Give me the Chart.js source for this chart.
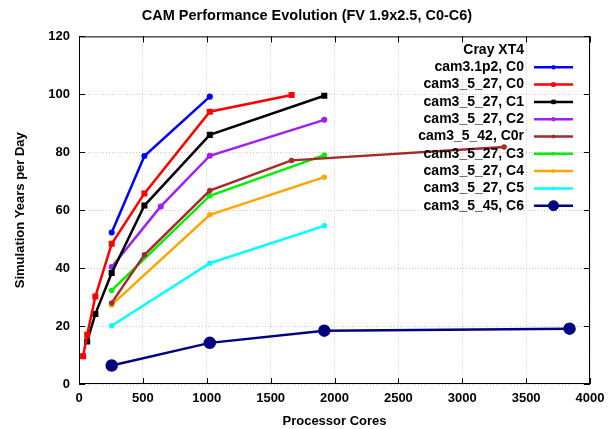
<!DOCTYPE html>
<html>
<head>
<meta charset="utf-8">
<script src="https://cdn.jsdelivr.net/npm/chart.js@4.4.1/dist/chart.umd.min.js"></script>
<style>
  html, body { margin: 0; padding: 0; background: #fff; }
  #wrap { width: 614px; height: 429px; }
</style>
</head>
<body>
<div id="wrap"><canvas id="perfChart"></canvas></div>
<script>
// data (x = processor cores, y = simulation years per day)
const seriesLabels = [
    'cam3.1p2, C0', 'cam3_5_27, C0', 'cam3_5_27, C1', 'cam3_5_27, C2', 'cam3_5_42, C0r',
    'cam3_5_27, C3', 'cam3_5_27, C4', 'cam3_5_27, C5', 'cam3_5_45, C6'
];
const cam31p2C0 = [[256, 52.3], [512, 78.7], [1024, 99.2]];
const cam3527C0 = [[32, 9.6], [64, 17.0], [128, 30.2], [256, 48.4], [512, 65.8], [1024, 94.0], [1664, 99.8]];
const cam3527C1 = [[64, 14.7], [128, 24.2], [256, 38.3], [512, 61.6], [1024, 86.0], [1920, 99.5]];
const cam3527C2 = [[256, 40.4], [640, 61.3], [1024, 78.8], [1920, 91.2]];
const cam3542C0r = [[256, 28.0], [512, 44.6], [1024, 66.8], [1664, 77.2], [3328, 81.8]];
const cam3527C3 = [[256, 32.3], [1024, 65.0], [1920, 79.0]];
const cam3527C4 = [[256, 27.3], [1024, 58.4], [1920, 71.4]];
const cam3527C5 = [[256, 20.1], [1024, 41.7], [1920, 54.6]];
const cam3545C6 = [[256, 6.4], [1024, 14.2], [1920, 18.4], [3840, 19.1]];
const xTicks = [0, 500, 1000, 1500, 2000, 2500, 3000, 3500, 4000];
const yTicks = [0, 20, 40, 60, 80, 100, 120];

const allSeries = [cam31p2C0, cam3527C0, cam3527C1, cam3527C2, cam3542C0r, cam3527C3, cam3527C4, cam3527C5, cam3545C6];
const colors = ['#0000ff', '#ff0000', '#000000', '#a020f0', '#a52a2a', '#00ee00', '#ffa500', '#00ffff', '#000080'];
const pointStyles = ['circle', 'rect', 'rect', 'circle', 'circle', 'circle', 'circle', 'circle', 'circle'];
const pointSizes = [1.8, 2.5, 2.5, 1.8, 1.5, 1.5, 1.5, 1.5, 5];

const FONT = '"Liberation Sans", Arial, Helvetica, sans-serif';

// legend drawn gnuplot style: label right-aligned, line sample on its right
const gnuLegend = {
    id: 'gnuLegend',
    afterDatasetsDraw(chart) {
        const ctx = chart.ctx;
        const textRight = 524, lineL = 534, lineR = 573;
        let y = 50;
        ctx.save();
        ctx.font = 'bold 14px ' + FONT;
        ctx.fillStyle = '#000';
        ctx.textAlign = 'right';
        ctx.textBaseline = 'middle';
        ctx.fillText('Cray XT4', textRight, y);
        y += 17.3;
        chart.data.datasets.forEach(function(ds) {
            ctx.fillStyle = '#000';
            ctx.fillText(ds.label, textRight, y);
            ctx.strokeStyle = ds.borderColor;
            ctx.lineWidth = ds.borderWidth;
            ctx.beginPath();
            ctx.moveTo(lineL, y);
            ctx.lineTo(lineR, y);
            ctx.stroke();
            if (Chart.helpers && Chart.helpers.drawPoint) {
                ctx.fillStyle = ds.pointBackgroundColor;
                ctx.lineWidth = 1;
                Chart.helpers.drawPoint(ctx, {
                    pointStyle: ds.pointStyle,
                    radius: ds.pointRadius,
                    rotation: 0,
                    borderWidth: 1
                }, (lineL + lineR) / 2, y);
            }
            y += 17.3;
        });
        ctx.restore();
    }
};

// frame and inward ticks on all four sides
const frameTicks = {
    id: 'frameTicks',
    afterDraw(chart) {
        const a = chart.chartArea;
        const xs = chart.scales.x, ys = chart.scales.y;
        const ctx = chart.ctx;
        ctx.save();
        ctx.strokeStyle = '#000';
        ctx.lineWidth = 1;
        ctx.strokeRect(a.left + 0.5, a.top + 0.5, a.right - a.left - 1, a.bottom - a.top - 1);
        ctx.beginPath();
        xTicks.forEach(function(v) {
            const px = Math.round(xs.getPixelForValue(v)) + 0.5;
            ctx.moveTo(px, a.bottom); ctx.lineTo(px, a.bottom - 6);
            ctx.moveTo(px, a.top); ctx.lineTo(px, a.top + 6);
        });
        yTicks.forEach(function(v) {
            const py = Math.round(ys.getPixelForValue(v)) + 0.5;
            ctx.moveTo(a.left, py); ctx.lineTo(a.left + 6, py);
            ctx.moveTo(a.right, py); ctx.lineTo(a.right - 6, py);
        });
        ctx.stroke();
        ctx.restore();
    }
};

new Chart(document.getElementById('perfChart'), {
    type: 'line',
    data: {
        datasets: allSeries.map(function(s, i) {
            return {
                label: seriesLabels[i],
                data: s.map(function(p) { return { x: p[0], y: p[1] }; }),
                borderColor: colors[i],
                backgroundColor: colors[i],
                pointBackgroundColor: colors[i],
                pointBorderColor: colors[i],
                pointStyle: pointStyles[i],
                pointRadius: pointSizes[i],
                borderWidth: 2.5,
                tension: 0,
                fill: false
            };
        })
    },
    options: {
        responsive: true,
        maintainAspectRatio: false,
        animation: false,
        layout: {
            padding: 0
        },
        scales: {
            x: {
                type: 'linear',
                min: 0,
                max: 4000,
                afterBuildTicks: function(scale) {
                    scale.ticks = xTicks.map(function(v) { return { value: v }; });
                },
                afterFit: function(scale) { scale.height = 45; },
                grid: {
                    color: '#c8c8c8',
                    drawTicks: false
                },
                border: { display: false, dash: [1, 2] },
                ticks: {
                    color: '#000',
                    padding: 7,
                    maxRotation: 0,
                    callback: function(value) { return String(value); },
                    font: { family: FONT, size: 13, weight: 'bold' }
                },
                title: {
                    display: true,
                    text: 'Processor Cores',
                    color: '#000',
                    padding: { top: 3, bottom: 0 },
                    font: { family: FONT, size: 13, weight: 'bold' }
                }
            },
            y: {
                min: 0,
                max: 120,
                afterBuildTicks: function(scale) {
                    scale.ticks = yTicks.map(function(v) { return { value: v }; });
                },
                afterFit: function(scale) { scale.width = 79; },
                grid: {
                    color: '#c8c8c8',
                    drawTicks: false
                },
                border: { display: false, dash: [1, 2] },
                ticks: {
                    color: '#000',
                    padding: 9,
                    font: { family: FONT, size: 13, weight: 'bold' }
                },
                title: {
                    display: true,
                    text: 'Simulation Years per Day',
                    color: '#000',
                    padding: { top: 13, bottom: 4 },
                    font: { family: FONT, size: 13, weight: 'bold' }
                }
            },
            // empty right-hand margin so the title centres on the whole canvas
            yRight: {
                position: 'right',
                min: 0,
                max: 120,
                afterFit: function(scale) { scale.width = 24; },
                grid: { display: false },
                border: { display: false },
                ticks: { display: false }
            }
        },
        plugins: {
            legend: { display: false },
            tooltip: { enabled: false },
            title: {
                display: true,
                text: 'CAM Performance Evolution (FV 1.9x2.5, C0-C6)',
                color: '#000',
                padding: { top: 7, bottom: 12 },
                font: { family: FONT, size: 14.5, weight: 'bold' }
            }
        }
    },
    plugins: [gnuLegend, frameTicks]
});
</script>
</body>
</html>
